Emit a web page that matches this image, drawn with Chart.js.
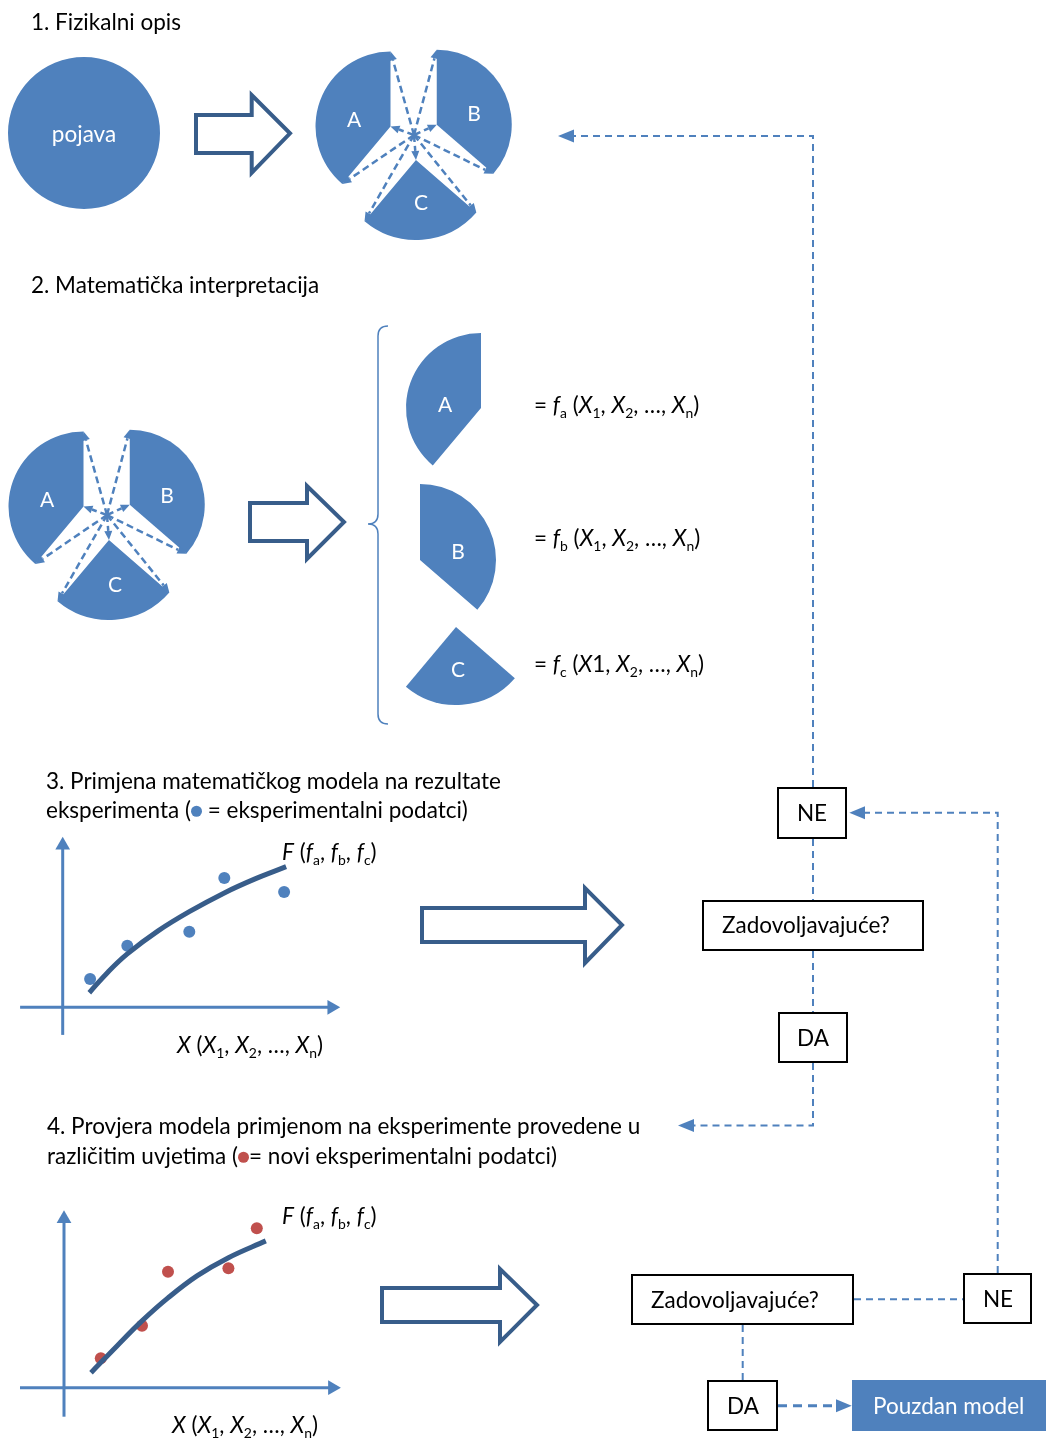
<!DOCTYPE html>
<html lang="hr">
<head>
<meta charset="utf-8">
<title>Matematički model</title>
<script src="https://cdn.jsdelivr.net/npm/chart.js@4.4.1/dist/chart.umd.min.js"></script>
<style>
  html, body { margin: 0; background: #fff; }
  #page { position: relative; width: 1046px; height: 1439px; overflow: hidden;
          font-family: Lato, "Open Sans", sans-serif; font-size: 22.5px; color: #000; }
  #page canvas { position: absolute; }
  #lines { position: absolute; left: 0; top: 0; }
  .t { position: absolute; white-space: nowrap; line-height: 1; transform: translateY(-50%); }
  .c { transform: translate(-50%, -50%); }
  .w { color: #fff; }
  .lbl { font-size: 21px; }
  .box { position: absolute; box-sizing: border-box; border: 2px solid #000; background: #fff; }
  sub { font-size: 0.62em; vertical-align: -0.35em; line-height: 0; }
  .dot { display: inline-block; width: 11px; height: 11px; border-radius: 50%; vertical-align: 0.05em; }
</style>
</head>
<body>
<div id="page">
  <canvas id="pojava" width="160" height="160" style="left:4px;top:53px"></canvas>
  <canvas id="pie1" width="220" height="220" style="left:304px;top:25px"></canvas>
  <canvas id="pie2" width="214" height="214" style="left:0px;top:408px"></canvas>
  <canvas id="sliceA" width="180" height="180" style="left:391px;top:318px"></canvas>
  <canvas id="sliceB" width="180" height="180" style="left:330px;top:470px"></canvas>
  <canvas id="sliceC" width="180" height="180" style="left:366px;top:537px"></canvas>
  <canvas id="plot3" width="340" height="220" style="left:10px;top:826px"></canvas>
  <canvas id="plot4" width="340" height="235" style="left:10px;top:1200px"></canvas>

  <svg id="lines" width="1046" height="1439">
    <g fill="#fff" stroke="#385D8A" stroke-width="4" stroke-linejoin="miter">
      <path d="M196,115 H251.7 V95 L290,133.3 L251.7,172.7 V153 H196 Z"/>
      <path d="M250,503 H307 V486 L344,522 L307,559 V541 H250 Z"/>
      <path d="M422,908 H585 V888 L622,925 L585,963 V942 H422 Z"/>
      <path d="M382,1288 H500 V1269 L537,1305 L500,1342 V1322 H382 Z"/>
    </g>
    <path d="M388,326 Q378,326 378,336 V514 Q378,524 368,524 Q378,524 378,534 V714 Q378,724 388,724"
          fill="none" stroke="#4F81BD" stroke-width="1.5"/>
    <g stroke="#4F81BD" stroke-width="2" stroke-dasharray="7 5" fill="none">
      <polyline points="813,787 813,136 574,136"/>
      <line x1="813" y1="839" x2="813" y2="900"/>
      <line x1="813" y1="951" x2="813" y2="1012"/>
      <polyline points="813,1063 813,1125.5 694,1125.5"/>
      <polyline points="997.7,1273 997.7,812.7 865,812.7"/>
      <line x1="854" y1="1299.3" x2="963" y2="1299.3"/>
      <line x1="742.7" y1="1325" x2="742.7" y2="1380"/>
    </g>
    <line x1="778" y1="1405.7" x2="836" y2="1405.7" stroke="#4F81BD" stroke-width="3" stroke-dasharray="9 6"/>
    <g fill="#4F81BD">
      <polygon points="558,136 574,129.5 574,142.5"/>
      <polygon points="678,1125.5 694,1119 694,1132"/>
      <polygon points="849.3,812.7 865,806.2 865,819.2"/>
      <polygon points="851.7,1405.7 836,1399.2 836,1412.2"/>
    </g>
  </svg>

  <div class="box" style="left:777px;top:787px;width:70px;height:52px"></div>
  <div class="box" style="left:702px;top:900px;width:222px;height:51px"></div>
  <div class="box" style="left:778px;top:1012px;width:70px;height:51px"></div>
  <div class="box" style="left:631px;top:1274px;width:223px;height:51px"></div>
  <div class="box" style="left:963px;top:1273px;width:69px;height:51px"></div>
  <div class="box" style="left:707px;top:1380px;width:71px;height:51px"></div>
  <div class="box" style="left:852px;top:1380px;width:194px;height:51px;background:#4F81BD;border-color:#4F81BD"></div>

  <div class="t" style="left:31px;top:22px">1. Fizikalni opis</div>
  <div class="t" style="left:31px;top:285px">2. Matematička interpretacija</div>
  <div class="t" style="left:46px;top:781px">3. Primjena matematičkog modela na rezultate</div>
  <div class="t" style="left:46px;top:810px">eksperimenta (<span class="dot" style="background:#4F81BD"></span> = eksperimentalni podatci)</div>
  <div class="t" style="left:47px;top:1126px">4. Provjera modela primjenom na eksperimente provedene u</div>
  <div class="t" style="left:47px;top:1156px">različitim uvjetima (<span class="dot" style="background:#C0504D"></span>= novi eksperimentalni podatci)</div>

  <div class="t c w" style="left:84px;top:134px">pojava</div>
  <div class="t c w lbl" style="left:354px;top:118px">A</div>
  <div class="t c w lbl" style="left:474px;top:112px">B</div>
  <div class="t c w lbl" style="left:421px;top:201px">C</div>
  <div class="t c w lbl" style="left:47px;top:498px">A</div>
  <div class="t c w lbl" style="left:167px;top:494px">B</div>
  <div class="t c w lbl" style="left:115px;top:583px">C</div>
  <div class="t c w lbl" style="left:445px;top:403px">A</div>
  <div class="t c w lbl" style="left:458px;top:550px">B</div>
  <div class="t c w lbl" style="left:458px;top:668px">C</div>

  <div class="t" style="left:534px;top:405px">= <i>f</i><sub>a</sub> (<i>X</i><sub>1</sub>, <i>X</i><sub>2</sub>, …, <i>X</i><sub>n</sub>)</div>
  <div class="t" style="left:534px;top:538px">= <i>f</i><sub>b</sub> (<i>X</i><sub>1</sub>, <i>X</i><sub>2</sub>, …, <i>X</i><sub>n</sub>)</div>
  <div class="t" style="left:534px;top:664px">= <i>f</i><sub>c</sub> (<i>X</i>1, <i>X</i><sub>2</sub>, …, <i>X</i><sub>n</sub>)</div>

  <div class="t" style="left:282px;top:852px"><i>F</i> (<i>f</i><sub>a</sub>, <i>f</i><sub>b</sub>, <i>f</i><sub>c</sub>)</div>
  <div class="t" style="left:177px;top:1045px"><i>X</i> (<i>X</i><sub>1</sub>, <i>X</i><sub>2</sub>, …, <i>X</i><sub>n</sub>)</div>
  <div class="t" style="left:282px;top:1216px"><i>F</i> (<i>f</i><sub>a</sub>, <i>f</i><sub>b</sub>, <i>f</i><sub>c</sub>)</div>
  <div class="t" style="left:172px;top:1425px"><i>X</i> (<i>X</i><sub>1</sub>, <i>X</i><sub>2</sub>, …, <i>X</i><sub>n</sub>)</div>

  <div class="t c" style="left:812px;top:813px">NE</div>
  <div class="t" style="left:722px;top:925px">Zadovoljavajuće?</div>
  <div class="t c" style="left:813px;top:1038px">DA</div>
  <div class="t" style="left:651px;top:1300px">Zadovoljavajuće?</div>
  <div class="t c" style="left:998px;top:1299px">NE</div>
  <div class="t c" style="left:743px;top:1406px">DA</div>
  <div class="t w" style="left:873px;top:1406px">Pouzdan model</div>
</div>

<script>
const blue = '#4F81BD';
const dark = '#385D8A';
const red = '#C0504D';

// pie slices, clockwise from 12 o'clock
const sliceNames = ['B', 'C', 'A'];
const sliceAngles = [131, 89, 140];
const phenomenon = [1];

// step 3: experimental points and fitted model
const measuredX = [1.37, 3.23, 6.33, 8.08, 11.07];
const measuredY = [1.42, 3.08, 3.78, 6.47, 5.77];
const fitX = [1.33, 2.27, 3.23, 4.77, 6.33, 8.08, 9.62, 11.17];
const fitY = [0.73, 1.77, 2.67, 3.82, 4.78, 5.72, 6.42, 7.03];

// step 4: new experimental points and the model
const newX = [1.84, 3.9, 5.2, 8.22, 9.64];
const newY = [1.47, 3.1, 5.8, 5.97, 7.97];
const fit2X = [1.35, 2.65, 3.9, 5.2, 6.65, 8.2, 10.09];
const fit2Y = [0.75, 2.09, 3.34, 4.49, 5.59, 6.49, 7.34];

function dashArrow(ctx, x0, y0, x1, y1) {
    let a = Math.atan2(y1 - y0, x1 - x0);
    let bx = x1 - Math.cos(a) * 9, by = y1 - Math.sin(a) * 9;
    ctx.beginPath();
    ctx.moveTo(x0, y0);
    ctx.lineTo(bx, by);
    ctx.stroke();
    ctx.beginPath();
    ctx.moveTo(x1, y1);
    ctx.lineTo(bx + Math.sin(a) * 4, by - Math.cos(a) * 4);
    ctx.lineTo(bx - Math.sin(a) * 4, by + Math.cos(a) * 4);
    ctx.closePath();
    ctx.fill();
}

// pulls slices away from the centre and draws the dashed arrows
const explode = {
    id: 'explode',
    afterDatasetUpdate(chart, args, opts) {
        if (!opts.shift) return;
        args.meta.data.forEach(function(arc, i) {
            let mid = (arc.startAngle + arc.endAngle) / 2;
            arc.x += Math.cos(mid) * opts.shift;
            arc.y += Math.sin(mid) * opts.shift;
            if (opts.radii) arc.outerRadius = opts.radii[i];
        });
    },
    afterDatasetsDraw(chart, args, opts) {
        if (!opts.arrows) return;
        let ctx = chart.ctx;
        let area = chart.chartArea;
        let cx = (area.left + area.right) / 2, cy = (area.top + area.bottom) / 2;
        ctx.save();
        ctx.strokeStyle = blue;
        ctx.fillStyle = blue;
        ctx.lineWidth = 2.5;
        ctx.setLineDash([7, 4]);
        chart.getDatasetMeta(0).data.forEach(function(arc) {
            let r = arc.outerRadius;
            dashArrow(ctx, cx, cy, arc.x, arc.y);
            dashArrow(ctx, cx, cy, arc.x + Math.cos(arc.startAngle) * r, arc.y + Math.sin(arc.startAngle) * r);
            dashArrow(ctx, cx, cy, arc.x + Math.cos(arc.endAngle) * r, arc.y + Math.sin(arc.endAngle) * r);
        });
        ctx.restore();
    }
};

function pieChart(id, values, colors, radius, extra) {
    return new Chart(document.getElementById(id), {
        type: 'pie',
        data: {
            labels: values.length > 1 ? sliceNames : ['pojava'],
            datasets: [{ data: values, backgroundColor: colors, borderWidth: 0 }]
        },
        options: {
            responsive: false,
            animation: false,
            events: [],
            radius: radius,
            plugins: {
                legend: { display: false },
                tooltip: { enabled: false },
                explode: extra || {}
            }
        },
        plugins: [explode]
    });
}

pieChart('pojava', phenomenon, [blue], 76);
pieChart('pie1', sliceAngles, [blue, blue, blue], 76, { shift: 25, arrows: true, radii: [75, 80, 75] });
pieChart('pie2', sliceAngles, [blue, blue, blue], 76, { shift: 25, arrows: true, radii: [75, 80, 75] });
pieChart('sliceA', sliceAngles, ['transparent', 'transparent', blue], 75);
pieChart('sliceB', sliceAngles, [blue, 'transparent', 'transparent'], 76);
pieChart('sliceC', sliceAngles, ['transparent', blue, 'transparent'], 78);

function pts(xs, ys) {
    return xs.map(function(x, i) { return { x: x, y: ys[i] }; });
}

function plotChart(id, xr, yr, axisEnd, points, pointColor, curve) {
    let axisStyle = {
        type: 'line',
        borderColor: blue,
        borderWidth: 3,
        pointStyle: 'triangle',
        pointRadius: [0, 8.5],
        pointBackgroundColor: blue,
        pointBorderWidth: 0,
        order: 3
    };
    new Chart(document.getElementById(id), {
        type: 'scatter',
        data: {
            datasets: [
                Object.assign({}, axisStyle, {
                    data: [{ x: axisEnd[0], y: 0 }, { x: axisEnd[1], y: 0 }],
                    pointRotation: [0, 90]
                }),
                Object.assign({}, axisStyle, {
                    data: [{ x: 0, y: axisEnd[2] }, { x: 0, y: axisEnd[3] }],
                    pointRotation: [0, 0]
                }),
                {
                    type: 'line',
                    data: curve,
                    borderColor: dark,
                    borderWidth: 5,
                    pointRadius: 0,
                    tension: 0.4,
                    order: 1
                },
                {
                    data: points,
                    backgroundColor: pointColor,
                    pointRadius: 6,
                    borderWidth: 0,
                    order: 2
                }
            ]
        },
        options: {
            responsive: false,
            animation: false,
            events: [],
            layout: { autoPadding: false, padding: 0 },
            clip: false,
            scales: {
                x: { type: 'linear', min: xr[0], max: xr[1], display: false },
                y: { type: 'linear', min: yr[0], max: yr[1], display: false }
            },
            plugins: { legend: { display: false }, tooltip: { enabled: false } }
        }
    });
}

plotChart('plot3', [-2.635, 14.365], [-1.935, 9.065], [-2.13, 13.45, -1.38, 8.1],
          pts(measuredX, measuredY), blue, pts(fitX, fitY));
plotChart('plot4', [-2.7, 14.3], [-2.365, 9.385], [-2.2, 13.42, -1.45, 8.45],
          pts(newX, newY), red, pts(fit2X, fit2Y));
</script>
</body>
</html>
